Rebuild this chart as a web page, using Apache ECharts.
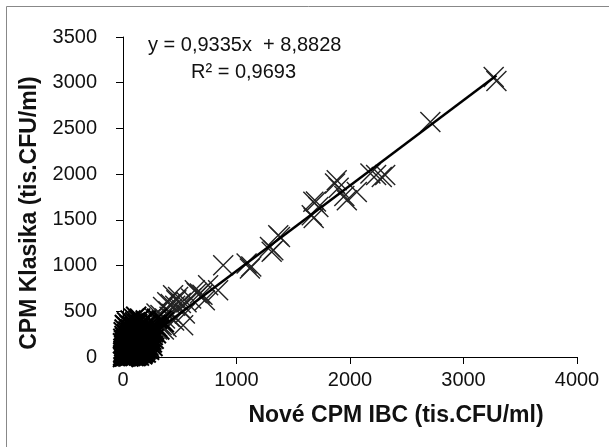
<!DOCTYPE html>
<html>
<head>
<meta charset="utf-8">
<script src="https://cdn.jsdelivr.net/npm/echarts@6/dist/echarts.min.js"></script>
<style>
  html, body { margin: 0; padding: 0; background: #fff; }
  #chart { width: 609px; height: 447px; }
</style>
</head>
<body>
<div id="chart"></div>
<script>
// body: [Nové CPM IBC, CPM Klasika] v tis.CFU/ml
var bigPoints = [
  [3266,3063],[3290,3020],[2708,2571],[2280,1969],[2310,1990],[2180,2006],[2230,1990],
  [2060,1805],[1972,1714],[1950,1760],[1883,1933],[1868,1897],[1900,1850],[1721,1641],
  [1700,1700],[1677,1697],[1663,1550],[1680,1520],[1368,1331],[1383,1313],[1324,1167],
  [1295,1203],[1310,1150],[1118,967],[1089,1022],[1130,990],[883,1003],[838,730],
  [750,784],[721,620],[700,680],[677,694],[633,730],[560,600],[545,475],[530,347],
  [485,656],[470,620],[441,675],[420,580],[400,500],[383,328],[353,547],[330,460],
  [295,475],[310,380],[280,420],[260,300],[250,250],
  [460,560],[500,540],[430,470],[370,420],[340,350],[450,400],[390,600],[410,440],
  [300,300],[320,360],[270,350],[360,300],[510,590],[600,640],[650,700]
];
var clusterPoints = [
  [5,10],[8,40],[10,120],[12,80],[15,5],[18,160],[20,60],[22,210],[25,25],[28,100],
  [30,140],[32,250],[35,15],[38,70],[40,190],[42,45],[45,110],[48,280],[50,30],[52,160],
  [55,90],[58,230],[60,10],[62,130],[65,55],[68,200],[70,300],[72,85],[75,20],[78,170],
  [80,120],[82,260],[85,40],[88,95],[90,210],[92,150],[95,65],[98,330],[100,180],[102,25],
  [105,120],[108,240],[110,75],[112,160],[115,290],[118,50],[120,200],[122,110],[125,140],
  [128,260],[130,30],[132,90],[135,220],[138,170],[140,60],[142,310],[145,130],[148,190],
  [150,100],[155,250],[158,40],[160,160],[165,210],[168,80],[170,120],[175,280],[178,150],
  [180,200],[185,60],[188,240],[190,110],[195,170],[200,260],[205,140],[210,90],[215,200],
  [220,320],[225,180],[230,230],[240,150],[245,270],[3,200],[6,270],[14,300],[24,340],
  [0,0],[2,50],[0,150],[16,350],[36,380],[44,320],[56,350],[66,400],[76,340],[86,370],
  [96,420],[106,380],[116,440],[126,360],[136,400],[150,420],[160,350],[170,380],[190,330],
  [200,400],[210,350],[230,300],[110,10],[140,15],[170,30],[200,50],[230,80],[260,120],
  [270,200],[290,260],[300,330],[320,300],[340,400],[360,380],[300,420],
  [4,90],[9,180],[13,230],[17,35],[21,130],[26,170],[29,55],[33,200],[37,105],[41,240],
  [46,75],[49,145],[53,215],[57,35],[61,175],[64,265],[69,110],[73,45],[77,225],[81,150],
  [84,290],[87,15],[91,125],[94,245],[97,85],[101,215],[104,50],[107,155],[111,275],[114,100],
  [117,230],[121,20],[124,170],[127,70],[131,290],[134,125],[137,40],[141,230],[144,175],[147,80],
  [152,210],[156,130],[162,270],[166,45],[172,190],[176,95],[182,230],[186,140],[192,290],[197,80],
  [202,190],[208,230],[212,130],[218,260],[228,110],[235,200],[250,190],[262,240],[275,300],[285,350],
  [2,20],[7,65],[11,140],[19,95],[23,185],[27,10],[31,120],[34,165],[39,30],[43,220],
  [47,5],[51,100],[54,185],[59,60],[63,150],[67,20],[71,240],[74,130],[79,70],[83,195],
  [89,170],[93,10],[99,140],[103,90],[109,200],[113,30],[119,135],[123,235],[129,100],[133,180],
  [139,120],[143,270],[149,50],[153,160],[157,220],[163,100],[167,150],[173,240],[179,50],[183,120],
  [189,190],[193,140],[199,100],[204,220],[214,160],[222,130],[232,260],[242,220],[255,160],[265,270]
];
var slope = 0.9335;
var intercept = 8.8828;
var rSquared = 0.9693;
var xTicks = [0, 1000, 2000, 3000, 4000];
var yTicks = [0, 500, 1000, 1500, 2000, 2500, 3000, 3500];

var allPoints = clusterPoints.concat(bigPoints);
var xs = allPoints.map(function (p) { return p[0]; });
var xMin = Math.min.apply(null, xs);
var xMax = Math.max.apply(null, xs);
var trend = [[xMin, slope * xMin + intercept], [xMax, slope * xMax + intercept]];

function fmt(v) { return String(v).replace('.', ','); }

var font = 'Arial, "Liberation Sans", sans-serif';
var crossSymbol = 'path://M0,0L10,10M10,0L0,10';
var chart = echarts.init(document.getElementById('chart'));
var option = {
  backgroundColor: '#fff',
  animation: false,
  grid: { left: 123, right: 32, top: 37, bottom: 90 },
  xAxis: {
    type: 'value',
    min: xTicks[0], max: xTicks[xTicks.length - 1], interval: 1000,
    splitLine: { show: false },
    axisLine: { lineStyle: { color: '#000', width: 1 } },
    axisTick: { inside: false, length: 7, lineStyle: { color: '#000' } },
    axisLabel: { color: '#111', fontSize: 20, fontFamily: font, margin: 13, formatter: function (v) { return String(v); } },
    name: 'Nové CPM IBC (tis.CFU/ml)',
    nameLocation: 'middle',
    nameGap: 47,
    nameTextStyle: { color: '#111', fontSize: 23, fontWeight: 'bold', fontFamily: font, padding: [0, 0, 0, 92] }
  },
  yAxis: {
    type: 'value',
    min: yTicks[0], max: yTicks[yTicks.length - 1], interval: 500,
    splitLine: { show: false },
    axisLine: { show: true, lineStyle: { color: '#000', width: 1 } },
    axisTick: { show: true, inside: false, length: 7, lineStyle: { color: '#000' } },
    axisLabel: { color: '#111', fontSize: 20, fontFamily: font, margin: 26, formatter: function (v) { return String(v); } },
    name: 'CPM Klasika (tis.CFU/ml)',
    nameLocation: 'middle',
    nameGap: 74,
    nameRotate: 90,
    nameTextStyle: { color: '#111', fontSize: 23, fontWeight: 'bold', fontFamily: font, padding: [0, 32, 0, 0] }
  },
  graphic: [
    { type: 'rect', left: 4, top: 4, shape: { width: 700, height: 600 }, style: { fill: 'none', stroke: '#888', lineWidth: 1 }, silent: true },
    { type: 'text', left: 148, top: 35, style: { text: 'y = ' + fmt(slope) + 'x  + ' + fmt(intercept), fill: '#111', font: '20px ' + font } },
    { type: 'text', left: 191, top: 62, style: { text: 'R² = ' + fmt(rSquared), fill: '#111', font: '20px ' + font } }
  ],
  series: [
    {
      type: 'scatter',
      data: bigPoints,
      symbol: crossSymbol,
      symbolSize: 20,
      itemStyle: { color: 'none', borderColor: '#222', borderWidth: 1.4, opacity: 1 },
      z: 2
    },
    {
      type: 'scatter',
      data: clusterPoints,
      symbol: crossSymbol,
      symbolSize: 20,
      itemStyle: { color: 'none', borderColor: '#000', borderWidth: 2, opacity: 1 },
      z: 2
    },
    {
      type: 'line',
      data: trend,
      symbol: 'none',
      lineStyle: { color: '#000', width: 2.5 },
      z: 3
    }
  ]
};
chart.setOption(option);
</script>
</body>
</html>
